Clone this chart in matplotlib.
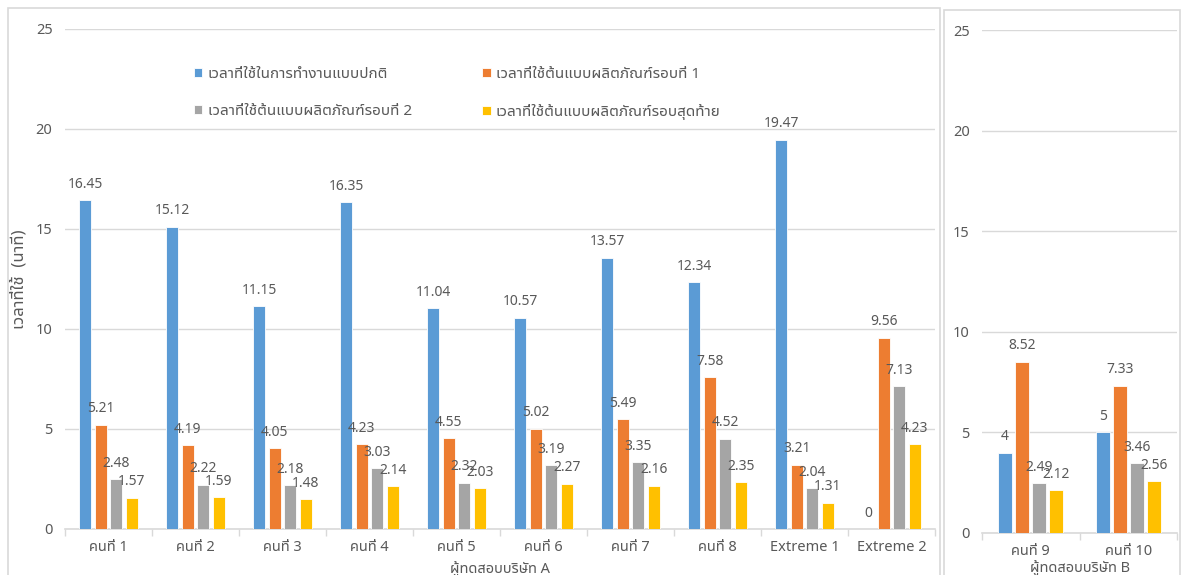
import matplotlib
matplotlib.use("Agg")
import matplotlib.pyplot as plt
from matplotlib.patches import Rectangle
import numpy as np

FONT = ['Noto Sans Thai UI', 'Noto Sans Thai', 'DejaVu Sans']
plt.rcParams['font.family'] = FONT

# ---- data ----
cats_a = ["คนที่ 1", "คนที่ 2", "คนที่ 3", "คนที่ 4", "คนที่ 5", "คนที่ 6",
          "คนที่ 7", "คนที่ 8", "Extreme 1", "Extreme 2"]
cats_b = ["คนที่ 9", "คนที่ 10"]

series_names = ["เวลาที่ใช้ในการทำงานแบบปกติ",
                "เวลาที่ใช้ต้นแบบผลิตภัณฑ์รอบที่ 1",
                "เวลาที่ใช้ต้นแบบผลิตภัณฑ์รอบที่ 2",
                "เวลาที่ใช้ต้นแบบผลิตภัณฑ์รอบสุดท้าย"]

normal_a = [16.45, 15.12, 11.15, 16.35, 11.04, 10.57, 13.57, 12.34, 19.47, 0]
round1_a = [5.21, 4.19, 4.05, 4.23, 4.55, 5.02, 5.49, 7.58, 3.21, 9.56]
round2_a = [2.48, 2.22, 2.18, 3.03, 2.32, 3.19, 3.35, 4.52, 2.04, 7.13]
final_a = [1.57, 1.59, 1.48, 2.14, 2.03, 2.27, 2.16, 2.35, 1.31, 4.23]

normal_b = [4, 5]
round1_b = [8.52, 7.33]
round2_b = [2.49, 3.46]
final_b = [2.12, 2.56]

colors = ["#5B9BD5", "#ED7D31", "#A5A5A5", "#FFC000"]
yticks = [0, 5, 10, 15, 20, 25]
ylabel = "เวลาที่ใช้  (นาที)"
xtitle_a = "ผู้ทดสอบบริษัท A"
xtitle_b = "ผู้ทดสอบบริษัท B"

TXT = "#595959"
GRID = "#D9D9D9"

W, H = 1182, 575
fig = plt.figure(figsize=(W / 100, H / 100), dpi=100)


def fx(px):
    return px / W


def fy(py):
    return 1 - py / H


# panel frames
fig.patches.append(Rectangle((fx(8), fy(590)), fx(940 - 8), fy(8) - fy(590),
                             transform=fig.transFigure, fill=False,
                             edgecolor=GRID, linewidth=1.2))
fig.patches.append(Rectangle((fx(944), fy(590)), fx(1180 - 944), fy(10) - fy(590),
                             transform=fig.transFigure, fill=False,
                             edgecolor=GRID, linewidth=1.2))


def fmt(v):
    return ("%g" % v)


def draw_panel(ax, cats, data, width, step, label_fs):
    n = len(cats)
    x = np.arange(n)
    offs = (np.arange(4) - 1.5) * step
    handles = []
    for k, vals in enumerate(data):
        bars = ax.bar(x + offs[k], vals, width=width, color=colors[k],
                      edgecolor="white", linewidth=0.6, label=series_names[k],
                      zorder=3)
        handles.append(bars)
        for xi, v in zip(x + offs[k], vals):
            ax.annotate(fmt(v), (xi, v), xytext=(0, 6), textcoords="offset points",
                        ha="center", va="bottom", fontsize=label_fs, color=TXT,
                        zorder=5)
    ax.set_xlim(-0.5, n - 0.5)
    ax.set_ylim(0, 25)
    ax.set_yticks(yticks)
    ax.grid(axis="y", color=GRID, linewidth=1.0, zorder=0)
    ax.set_axisbelow(True)
    for s in ["top", "right", "left"]:
        ax.spines[s].set_visible(False)
    ax.spines["bottom"].set_color(GRID)
    ax.spines["bottom"].set_linewidth(1.2)
    ax.set_xticks(x)
    ax.set_xticklabels(cats)
    ax.set_xticks(np.arange(n + 1) - 0.5, minor=True)
    ax.tick_params(axis="x", which="major", length=0, pad=8, labelsize=10.5,
                   labelcolor=TXT)
    ax.tick_params(axis="x", which="minor", length=5, color=GRID, width=1)
    ax.tick_params(axis="y", length=0, pad=9, labelsize=10.5, labelcolor=TXT)
    return handles


# left panel
axA = fig.add_axes([fx(65), fy(529), fx(935 - 65), fy(29) - fy(529)])
hA = draw_panel(axA, cats_a, [normal_a, round1_a, round2_a, final_a],
                width=0.14, step=0.178, label_fs=10)
axA.set_ylabel(ylabel, fontsize=12, color=TXT)
axA.yaxis.set_label_coords((27 - 65) / 870, 0.5)
axA.set_xlabel(xtitle_a, fontsize=10.5, color=TXT, labelpad=4)

order = [0, 2, 1, 3]
leg = axA.legend([hA[i] for i in order], [series_names[i] for i in order],
                 loc="upper left", bbox_to_anchor=((194 - 65) / 870, (529 - 67) / 500),
                 ncol=2, frameon=False, fontsize=11, labelcolor=TXT,
                 handlelength=0.55, handleheight=0.55, handletextpad=0.35,
                 columnspacing=4.6, labelspacing=1.45,
                 borderaxespad=0, borderpad=0)

# right panel
axB = fig.add_axes([fx(982), fy(533), fx(1177 - 982), fy(30) - fy(533)])
draw_panel(axB, cats_b, [normal_b, round1_b, round2_b, final_b],
           width=0.145, step=0.175, label_fs=10)
axB.set_xlabel(xtitle_b, fontsize=10.5, color=TXT, labelpad=1)

fig.savefig("out.png", dpi=100)
